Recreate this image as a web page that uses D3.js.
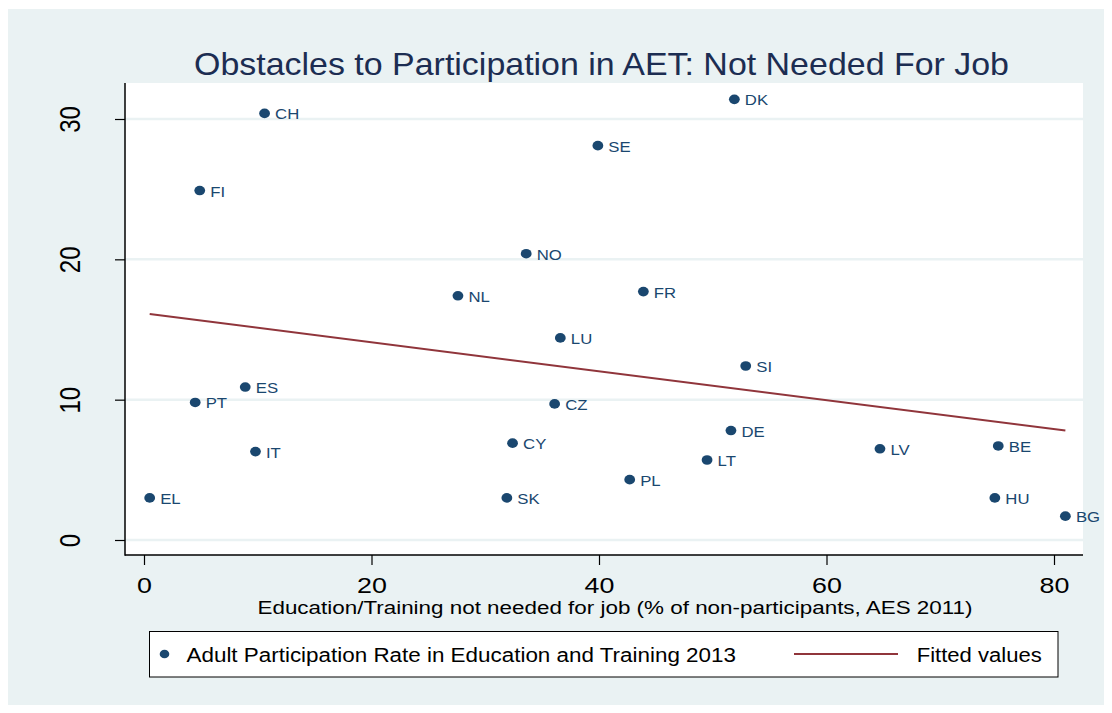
<!DOCTYPE html>
<html>
<head>
<meta charset="utf-8">
<script src="https://cdn.jsdelivr.net/npm/d3@7"></script>
<style>
  html, body { margin: 0; padding: 0; background: #ffffff; }
  svg { display: block; }
  text { font-family: "Liberation Sans", Arial, Helvetica, sans-serif; }
</style>
</head>
<body>
<script>
// Country codes and values: x = share of non-participants saying training is not needed for job (AES 2011),
// y = adult participation rate in education and training 2013
const countries = ["CH","DK","SE","FI","NO","NL","FR","LU","SI","ES","PT","CZ","CY","DE","LV","BE","IT","LT","PL","EL","SK","HU","BG"];
const notNeeded = [10.6, 51.9, 39.9, 4.9, 33.6, 27.6, 43.9, 36.6, 52.9, 8.9, 4.5, 36.1, 32.4, 51.6, 64.7, 75.1, 9.8, 49.5, 42.7, 0.5, 31.9, 74.8, 81.0];
const participation = [30.4, 31.4, 28.1, 24.9, 20.4, 17.4, 17.7, 14.4, 12.4, 10.9, 9.8, 9.7, 6.9, 7.8, 6.5, 6.7, 6.3, 5.7, 4.3, 3.0, 3.0, 3.0, 1.7];

// Linear fit, drawn between the smallest and largest x
const fitX = [0.5, 81.0];
const fitY = [16.1, 7.8];

const xTicks = [0, 20, 40, 60, 80];
const yTicks = [0, 10, 20, 30];

const titleText = "Obstacles to Participation in AET: Not Needed For Job";
const xTitleText = "Education/Training not needed for job (% of non-participants, AES 2011)";
const legendLabels = ["Adult Participation Rate in Education and Training 2013", "Fitted values"];

const W = 1112, H = 713;
const bgColor = "#eaf2f3";
const dotColor = "#1a476f";
const fitColor = "#90353b";
const titleColor = "#1c2d52";

// plot region frame
const frame = { left: 125, right: 1083, top: 83, bottom: 555 };

const svg = d3.select("body").append("svg")
  .attr("width", W).attr("height", H);

// graph background
svg.append("rect")
  .attr("x", 8).attr("y", 9).attr("width", 1096).attr("height", 696)
  .attr("fill", bgColor);

// plot region
svg.append("rect")
  .attr("x", frame.left).attr("y", frame.top)
  .attr("width", frame.right - frame.left).attr("height", frame.bottom - frame.top)
  .attr("fill", "#ffffff");

const x = d3.scaleLinear().domain([0, 80]).range([144, 1054]);
const y = d3.scaleLinear().domain([0, 30]).range([540, 119]);

// horizontal grid lines
svg.append("g").selectAll("line")
  .data(yTicks).join("line")
  .attr("x1", frame.left).attr("x2", frame.right)
  .attr("y1", d => y(d)).attr("y2", d => y(d))
  .attr("stroke", bgColor).attr("stroke-width", 2.5);

// y axis
const yAxis = svg.append("g")
  .attr("transform", `translate(${frame.left},0)`)
  .call(d3.axisLeft(y).tickValues(yTicks).tickSize(10).tickFormat(d3.format("d")));
yAxis.select(".domain").remove();
yAxis.selectAll(".tick line").attr("stroke", "#000").attr("stroke-width", 1.2);
yAxis.selectAll(".tick text")
  .attr("x", null).attr("dy", null)
  .attr("fill", "#000")
  .attr("font-size", 24)
  .attr("text-anchor", "middle")
  .attr("transform", "translate(-45,0) scale(1.25,1) rotate(-90)");

// x axis
const xAxis = svg.append("g")
  .attr("transform", `translate(0,${frame.bottom})`)
  .call(d3.axisBottom(x).tickValues(xTicks).tickSize(10).tickFormat(d3.format("d")));
xAxis.select(".domain").remove();
xAxis.selectAll(".tick line").attr("stroke", "#000").attr("stroke-width", 1.2);
xAxis.selectAll(".tick text")
  .attr("y", null).attr("dy", null)
  .attr("fill", "#000")
  .attr("font-size", 22)
  .attr("text-anchor", "middle")
  .attr("transform", "translate(0,37.5) scale(1.22,1)");

// axis lines
svg.append("line")
  .attr("x1", frame.left).attr("x2", frame.left)
  .attr("y1", frame.top).attr("y2", frame.bottom + 0.75)
  .attr("stroke", "#000").attr("stroke-width", 1.5);
svg.append("line")
  .attr("x1", frame.left).attr("x2", frame.right)
  .attr("y1", frame.bottom).attr("y2", frame.bottom)
  .attr("stroke", "#000").attr("stroke-width", 1.5);

// fitted line
const fitData = fitX.map((v, i) => [v, fitY[i]]);
svg.append("path")
  .datum(fitData)
  .attr("d", d3.line().x(d => x(d[0])).y(d => y(d[1])))
  .attr("fill", "none")
  .attr("stroke", fitColor)
  .attr("stroke-width", 2);

// scatter points with country labels
const pts = countries.map((c, i) => ({ code: c, xv: notNeeded[i], yv: participation[i] }));
const pg = svg.append("g");
pg.selectAll("ellipse")
  .data(pts).join("ellipse")
  .attr("cx", d => x(d.xv)).attr("cy", d => y(d.yv))
  .attr("rx", 5.4).attr("ry", 4.8)
  .attr("fill", dotColor);
pg.selectAll("text")
  .data(pts).join("text")
  .attr("transform", d => `translate(${x(d.xv) + 10.5},${y(d.yv) + 6}) scale(1.08,1)`)
  .attr("font-size", 15.5)
  .attr("fill", dotColor)
  .text(d => d.code);

// title
svg.append("text")
  .attr("x", 194).attr("y", 74.5)
  .attr("font-size", 32)
  .attr("fill", titleColor)
  .attr("textLength", 815).attr("lengthAdjust", "spacingAndGlyphs")
  .text(titleText);

// x axis title
svg.append("text")
  .attr("x", 257.5).attr("y", 614)
  .attr("font-size", 17.5)
  .attr("fill", "#000")
  .attr("textLength", 715).attr("lengthAdjust", "spacingAndGlyphs")
  .text(xTitleText);

// legend
const lg = svg.append("g");
lg.append("rect")
  .attr("x", 149.5).attr("y", 631.5).attr("width", 908.5).attr("height", 45.5)
  .attr("fill", "#fff").attr("stroke", "#000").attr("stroke-width", 1);
lg.append("ellipse")
  .attr("cx", 164.5).attr("cy", 654).attr("rx", 4.8).attr("ry", 4.3)
  .attr("fill", dotColor);
lg.append("text")
  .attr("x", 186.5).attr("y", 662.3)
  .attr("font-size", 19.5).attr("fill", "#000")
  .attr("textLength", 549.5).attr("lengthAdjust", "spacingAndGlyphs")
  .text(legendLabels[0]);
lg.append("line")
  .attr("x1", 794).attr("x2", 898).attr("y1", 654).attr("y2", 654)
  .attr("stroke", fitColor).attr("stroke-width", 2);
lg.append("text")
  .attr("x", 916.7).attr("y", 662.3)
  .attr("font-size", 19.5).attr("fill", "#000")
  .attr("textLength", 125).attr("lengthAdjust", "spacingAndGlyphs")
  .text(legendLabels[1]);
</script>
</body>
</html>
